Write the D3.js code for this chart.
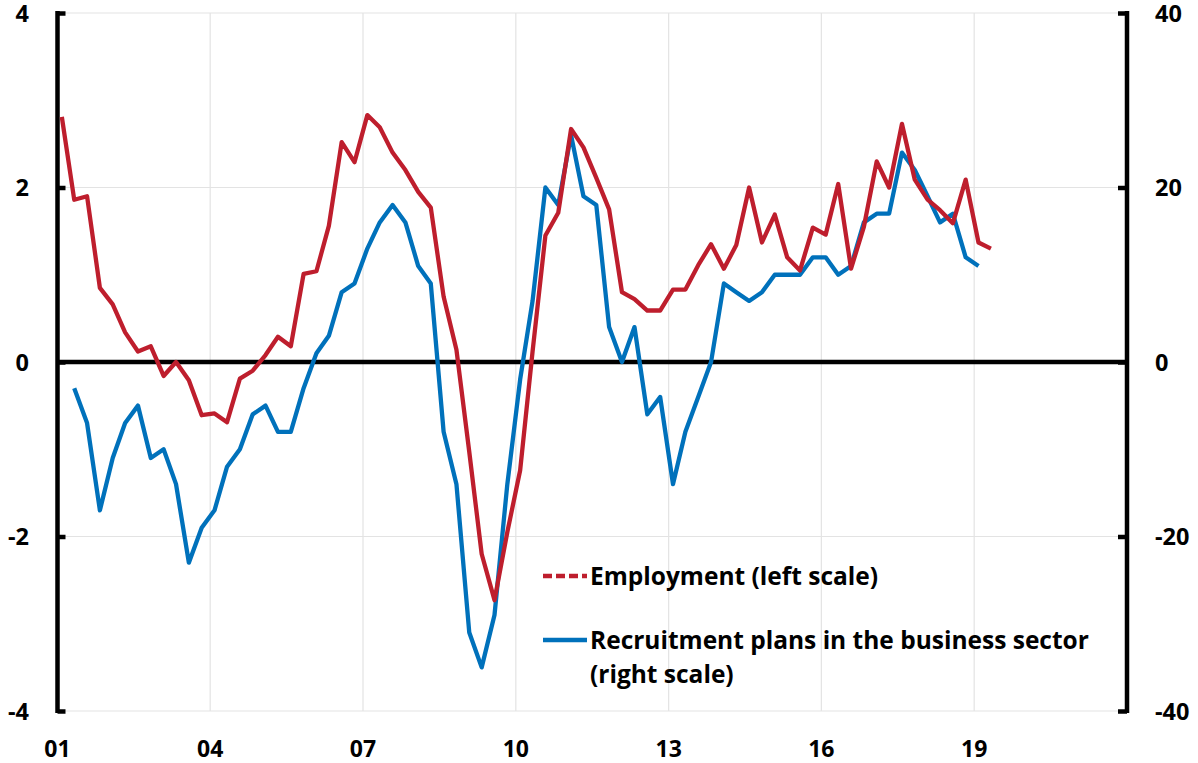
<!DOCTYPE html>
<html>
<head>
<meta charset="utf-8">
<script src="https://cdn.jsdelivr.net/npm/d3@7/dist/d3.min.js"></script>
<style>
  html, body { margin: 0; padding: 0; background: #fff; }
  svg { display: block; }
  text { font-family: "Open Sans", Lato, sans-serif; font-weight: 700; fill: #000; }
</style>
</head>
<body>
<svg id="chart" width="1198" height="763"></svg>
<script>
// Quarterly series, first observation 2001 Q1
const startYear = 2001;

// Employment, % y/y (left scale)
const employment = [
  2.81, 1.86, 1.90, 0.85, 0.66, 0.34, 0.12, 0.18, -0.16, 0.00,
  -0.21, -0.61, -0.59, -0.69, -0.19, -0.10, 0.08, 0.29, 0.18, 1.01,
  1.04, 1.56, 2.52, 2.29, 2.83, 2.69, 2.40, 2.20, 1.95, 1.77,
  0.75, 0.14, -1.03, -2.20, -2.73, -1.95, -1.24, 0.12, 1.45, 1.71,
  2.67, 2.46, 2.11, 1.75, 0.80, 0.72, 0.59, 0.59, 0.83, 0.83,
  1.11, 1.35, 1.07, 1.34, 2.00, 1.37, 1.69, 1.20, 1.05, 1.54,
  1.46, 2.04, 1.07, 1.55, 2.30, 2.00, 2.73, 2.09, 1.86, 1.74,
  1.59, 2.09, 1.37, 1.30
];

// Recruitment plans in the business sector, net balance (right scale); starts 2001 Q2
const recruitment = [
  null, -3, -7, -17, -11, -7, -5, -11, -10, -14,
  -23, -19, -17, -12, -10, -6, -5, -8, -8, -3,
  1, 3, 8, 9, 13, 16, 18, 16, 11, 9,
  -8, -14, -31, -35, -29, -14, -2, 7, 20, 18,
  26, 19, 18, 4, 0, 4, -6, -4, -14, -8,
  -4, 0, 9, 8, 7, 8, 10, 10, 10, 12,
  12, 10, 11, 16, 17, 17, 24, 22, 19, 16,
  17, 12, 11
];

const leftTicks = [-4, -2, 0, 2, 4];
const rightTicks = [-40, -20, 0, 20, 40];
const yearTicks = [2001, 2004, 2007, 2010, 2013, 2016, 2019];
const gridYears = [2004, 2007, 2010, 2013, 2016, 2019];

const legendLabels = ["Employment (left scale)", ["Recruitment plans in the business sector", "(right scale)"]];

const RED = "#be1e2d";
const BLUE = "#0071bb";

// Observations are placed at the start of each quarter's middle month
const quarterDate = i => new Date(startYear, 1 + 3 * i, 1);

const svg = d3.select("#chart");

const x = d3.scaleTime()
  .domain([new Date(2001, 0, 1), new Date(2022, 0, 1)])
  .range([57.5, 1127]);
const yL = d3.scaleLinear().domain([-4, 4]).range([711, 13]);
const yR = d3.scaleLinear().domain([-40, 40]).range([711, 13]);

// Gridlines
const grid = svg.append("g");
grid.selectAll("line.h")
  .data(leftTicks.filter(d => d !== 0))
  .join("line")
  .attr("x1", x.range()[0]).attr("x2", x.range()[1])
  .attr("y1", d => yL(d)).attr("y2", d => yL(d))
  .attr("stroke", "#e3e3e3").attr("stroke-width", 1.2);
grid.selectAll("line.v")
  .data(gridYears)
  .join("line")
  .attr("x1", d => x(new Date(d, 0, 1))).attr("x2", d => x(new Date(d, 0, 1)))
  .attr("y1", yL(4)).attr("y2", yL(-4))
  .attr("stroke", "#e3e3e3").attr("stroke-width", 1.2);

// Zero line
svg.append("line")
  .attr("x1", x.range()[0]).attr("x2", x.range()[1])
  .attr("y1", yL(0)).attr("y2", yL(0))
  .attr("stroke", "#000").attr("stroke-width", 4.5);

const fmt = d => String(d);
const TICK_FONT = 23.5;

// Left axis
const leftAxis = d3.axisRight(yL).tickValues(leftTicks).tickSize(8).tickFormat("");
const gL = svg.append("g").attr("transform", `translate(${x.range()[0]},0)`).call(leftAxis);
gL.select(".domain").attr("stroke", "#000").attr("stroke-width", 4.5).attr("d", `M0,${yL(4) - 2}V${yL(-4) + 2}`);
gL.selectAll(".tick line").attr("stroke", "#000").attr("stroke-width", 4.5);
svg.append("g").selectAll("text")
  .data(leftTicks)
  .join("text")
  .attr("x", 29).attr("y", d => yL(d) + 8.5)
  .attr("text-anchor", "end")
  .attr("font-size", TICK_FONT)
  .text(fmt);

// Right axis
const rightAxis = d3.axisLeft(yR).tickValues(rightTicks).tickSize(9).tickFormat("");
const gR = svg.append("g").attr("transform", `translate(${x.range()[1]},0)`).call(rightAxis);
gR.select(".domain").attr("stroke", "#000").attr("stroke-width", 4.5).attr("d", `M0,${yR(40) - 2}V${yR(-40) + 2}`);
gR.selectAll(".tick line").attr("stroke", "#000").attr("stroke-width", 4.5);
svg.append("g").selectAll("text")
  .data(rightTicks)
  .join("text")
  .attr("x", 1155).attr("y", d => yR(d) + 8.5)
  .attr("text-anchor", "start")
  .attr("font-size", TICK_FONT)
  .text(fmt);

// Year labels
svg.append("g").selectAll("text")
  .data(yearTicks)
  .join("text")
  .attr("x", d => x(new Date(d, 0, 1)))
  .attr("y", 757)
  .attr("text-anchor", "middle")
  .attr("font-size", 23)
  .text(d => String(d % 100).padStart(2, "0"));

// Series
const empLine = d3.line()
  .defined(d => d != null)
  .x((d, i) => x(quarterDate(i)))
  .y(d => yL(d));
const recLine = d3.line()
  .defined(d => d != null)
  .x((d, i) => x(quarterDate(i)))
  .y(d => yR(d));

svg.append("path")
  .datum(recruitment)
  .attr("fill", "none").attr("stroke", BLUE).attr("stroke-width", 4.3)
  .attr("stroke-linejoin", "round")
  .attr("d", recLine);
svg.append("path")
  .datum(employment)
  .attr("fill", "none").attr("stroke", RED).attr("stroke-width", 4.3)
  .attr("stroke-linejoin", "round")
  .attr("d", empLine);

// Legend
const LEG_FONT = 24.5;
const lg = svg.append("g");
lg.append("line")
  .attr("x1", 543).attr("x2", 587).attr("y1", 576).attr("y2", 576)
  .attr("stroke", RED).attr("stroke-width", 4.3)
  .attr("stroke-dasharray", "9,4");
lg.append("text")
  .attr("x", 590).attr("y", 585)
  .attr("font-size", LEG_FONT)
  .text(legendLabels[0]);
lg.append("line")
  .attr("x1", 543).attr("x2", 587).attr("y1", 640).attr("y2", 640)
  .attr("stroke", BLUE).attr("stroke-width", 4.3);
lg.append("text")
  .attr("x", 590).attr("y", 649)
  .attr("font-size", LEG_FONT)
  .text(legendLabels[1][0]);
lg.append("text")
  .attr("x", 590).attr("y", 683)
  .attr("font-size", LEG_FONT)
  .text(legendLabels[1][1]);
</script>
</body>
</html>
